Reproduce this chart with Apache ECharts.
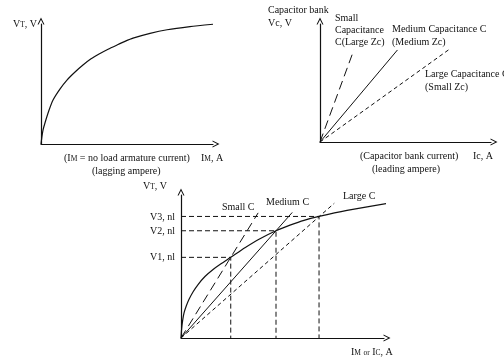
<!DOCTYPE html>
<html>
<head>
<meta charset="utf-8">
<script src="https://cdn.jsdelivr.net/npm/echarts@6/dist/echarts.min.js"></script>
<style>html,body{margin:0;padding:0;background:#fff}#c{width:504px;height:358px}</style>
</head>
<body>
<div id="c"></div>
<script>
// Panel 1: no-load magnetisation curve (VT vs IM)
const curve1X = [0, 0.06, 0.12, 0.23, 0.47, 0.70, 1.10, 1.51, 1.98, 2.44, 2.91, 3.43, 3.90, 4.42, 4.88, 5.35, 6.34, 7.33, 8.66, 10];
const curve1Y = [0, 0.67, 1.17, 1.75, 2.83, 3.67, 4.58, 5.33, 6.0, 6.58, 7.1, 7.54, 7.9, 8.25, 8.55, 8.82, 9.22, 9.52, 9.78, 9.98];

// Panel 2: capacitor bank lines (end points, from origin)
const capNames = ['Small C', 'Medium C', 'Large C'];
const capEndX = [1.98, 4.53, 7.51];
const capEndY = [7.8, 7.8, 7.8];

// Panel 3: curve + capacitor lines + intersections
const curve3X = [0, 0.03, 0.08, 0.15, 0.25, 0.39, 0.59, 0.84, 1.18, 1.58, 1.97, 2.45, 3.15, 3.89, 4.68, 5.37, 6.06, 6.80, 8.18, 10.25];
const curve3Y = [0, 0.63, 1.22, 1.75, 2.2, 2.69, 3.22, 3.74, 4.30, 4.79, 5.19, 5.64, 6.31, 6.94, 7.50, 7.89, 8.23, 8.50, 8.92, 9.44];
const line3EndX = [3.8, 5.48, 7.55];
const line3EndY = [8.75, 8.78, 9.42];
const nlX = [2.45, 4.68, 6.80];
const nlY = [5.64, 7.50, 8.50];
const nlLabels = ['V1, nl', 'V2, nl', 'V3, nl'];

const FONT = 'Liberation Serif';
const INK = '#111';
const arrow = 'path://M0,10 L5,0 L10,10 L8.4,10 L5,3.2 L1.6,10 Z';

function axis(gi) {
  return {
    type: 'value', gridIndex: gi, min: 0, max: 10,
    axisLabel: {show: false}, axisTick: {show: false}, splitLine: {show: false},
    axisLine: {show: true, symbol: ['none', arrow], symbolSize: [7, 7], symbolOffset: [0, 3],
      lineStyle: {color: INK, width: 1.2}}
  };
}
const zip = (xs, ys) => xs.map((x, i) => [x, ys[i]]);

const capDash = [[9, 5], null, [4, 3]];
const series = [];
series.push({type: 'line', xAxisIndex: 0, yAxisIndex: 0, data: zip(curve1X, curve1Y), smooth: 0.2,
  symbol: 'none', lineStyle: {color: INK, width: 1.2}, clip: false, silent: true});
capNames.forEach((n, i) => {
  series.push({type: 'line', xAxisIndex: 1, yAxisIndex: 1, data: [[0, 0], [capEndX[i], capEndY[i]]],
    symbol: 'none', lineStyle: {color: INK, width: 1, type: capDash[i] || 'solid'}, silent: true});
});
series.push({type: 'line', xAxisIndex: 2, yAxisIndex: 2, data: zip(curve3X, curve3Y), smooth: 0.2,
  symbol: 'none', lineStyle: {color: INK, width: 1.2}, clip: false, silent: true});
capNames.forEach((n, i) => {
  series.push({type: 'line', xAxisIndex: 2, yAxisIndex: 2, data: [[0, 0], [line3EndX[i], line3EndY[i]]],
    symbol: 'none', lineStyle: {color: INK, width: 1, type: capDash[i] || 'solid'}, silent: true});
  series.push({type: 'line', xAxisIndex: 2, yAxisIndex: 2,
    data: [[0, nlY[i]], [nlX[i], nlY[i]], [nlX[i], 0]],
    symbol: 'none', lineStyle: {color: INK, width: 1, type: [5, 3]}, silent: true});
});

const rich = {
  n: {fontFamily: FONT, fontSize: 10, color: INK, lineHeight: 12, verticalAlign: 'bottom'},
  s: {fontFamily: FONT, fontSize: 7.5, color: INK, lineHeight: 12, verticalAlign: 'bottom'}
};
function txt(x, y, t, align) {
  return {type: 'text', x: x, y: y, style: {text: t, fontFamily: FONT, fontSize: 10, fill: INK,
    align: align || 'left', verticalAlign: 'middle', rich: rich}};
}
const graphic = [
  // Panel 1
  txt(37, 23, '{n|V}{s|T}{n|, V}', 'right'),
  txt(64, 157, '{n|(I}{s|M}{n| = no load armature current)}'),
  txt(201, 157, '{n|I}{s|M}{n|, A}'),
  txt(92, 171, '(lagging ampere)'),
  // Panel 2
  txt(268, 10, 'Capacitor bank'),
  txt(268, 23, 'Vc, V'),
  txt(335, 18, 'Small'),
  txt(335, 30, 'Capacitance'),
  txt(335, 42, 'C(Large Zc)'),
  txt(392, 29, 'Medium Capacitance C'),
  txt(392, 42, '(Medium Zc)'),
  txt(425, 74, 'Large Capacitance C'),
  txt(425, 87, '(Small Zc)'),
  txt(360, 156, '(Capacitor bank current)'),
  txt(372, 169, '(leading ampere)'),
  txt(473, 156, 'Ic, A'),
  // Panel 3
  txt(167, 185, '{n|V}{s|T}{n|, V}', 'right'),
  txt(175, 217, nlLabels[2], 'right'),
  txt(175, 231, nlLabels[1], 'right'),
  txt(175, 257, nlLabels[0], 'right'),
  txt(222, 207, capNames[0]),
  txt(266, 202, capNames[1]),
  txt(343, 196, capNames[2]),
  txt(351, 351, '{n|I}{s|M}{n| }{s|or}{n| I}{s|C}{n|, A}')
];

const chart = echarts.init(document.getElementById('c'), null, {renderer: 'canvas'});
chart.setOption({
  animation: false,
  backgroundColor: '#fff',
  grid: [
    {left: 41, top: 24, width: 172, height: 120},
    {left: 320, top: 24, width: 171, height: 118},
    {left: 181, top: 195, width: 203, height: 143}
  ],
  xAxis: [axis(0), axis(1), axis(2)],
  yAxis: [axis(0), axis(1), axis(2)],
  series: series,
  graphic: graphic
});
</script>
</body>
</html>
